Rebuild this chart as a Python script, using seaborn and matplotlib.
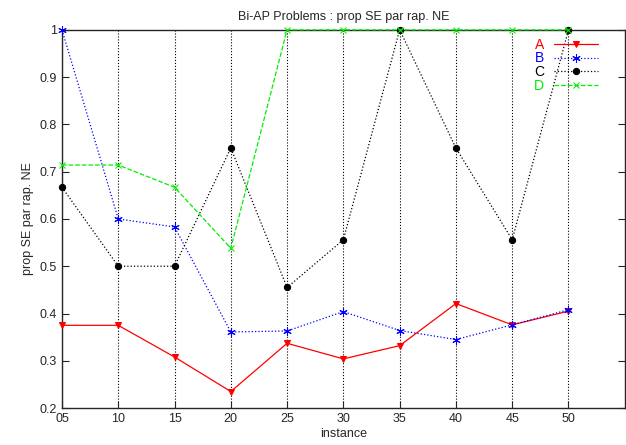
import numpy as np
import pandas as pd
import matplotlib
matplotlib.use('Agg')
import matplotlib.pyplot as plt
import seaborn as sns

instances = [5, 10, 15, 20, 25, 30, 35, 40, 45, 50]
tick_labels = ['05', '10', '15', '20', '25', '30', '35', '40', '45', '50']
serie_a = [0.375, 0.375, 0.308, 0.235, 0.337, 0.304, 0.332, 0.421, 0.376, 0.405]
serie_b = [1.0, 0.6, 0.583, 0.361, 0.363, 0.404, 0.364, 0.345, 0.376, 0.408]
serie_c = [0.667, 0.5, 0.5, 0.75, 0.455, 0.556, 1.0, 0.75, 0.556, 1.0]
serie_d = [0.714, 0.714, 0.667, 0.538, 1.0, 1.0, 1.0, 1.0, 1.0, 1.0]

sns.set_style('ticks')
plt.rcParams['font.family'] = ['Liberation Sans', 'DejaVu Sans']
plt.rcParams['font.size'] = 9

fig = plt.figure(figsize=(6.26, 4.45), dpi=100)
ax = fig.add_axes([0.099, 0.083, 0.899, 0.85])

styles = [
    ('A', serie_a, '#ff0000', '-', 'v', 4.5),
    ('B', serie_b, '#0000ff', ':', (6, 2, 0), 6),
    ('C', serie_c, '#000000', ':', 'o', 4.5),
    ('D', serie_d, '#00ee00', '--', 'x', 4.5),
]

# grille verticale pointillée sur les ticks x
for x in instances:
    ax.axvline(x, color='black', linestyle=':', linewidth=0.8, zorder=0)

for nom, vals, col, ls, mk, ms in styles:
    df = pd.DataFrame({'instance': instances, 'val': vals})
    sns.lineplot(x='instance', y='val', data=df, ax=ax, color=col, linestyle=ls,
                 marker=mk, markersize=ms, markeredgecolor=col, markerfacecolor=col,
                 linewidth=0.9, label=nom, clip_on=False, zorder=5)

ax.set_xlim(5, 55)
ax.set_ylim(0.2, 1.0)
ax.set_xticks(instances)
ax.set_xticklabels(tick_labels)
ax.set_yticks([0.2, 0.3, 0.4, 0.5, 0.6, 0.7, 0.8, 0.9, 1.0])
ax.set_yticklabels(['0.2', '0.3', '0.4', '0.5', '0.6', '0.7', '0.8', '0.9', '1'])
ax.tick_params(direction='in', right=True, length=5, labelsize=9)
for s in ax.spines.values():
    s.set_linewidth(1.0)
    s.set_visible(True)
    s.set_zorder(3)

ax.set_title('Bi-AP Problems : prop SE par rap. NE', fontsize=9, pad=7)
ax.set_xlabel('instance', fontsize=9, labelpad=2)
ax.set_ylabel('prop SE par rap. NE', fontsize=9)

leg = ax.legend(loc='upper right', frameon=False, markerfirst=False,
                labelcolor='linecolor', fontsize=10, handlelength=3.2,
                borderaxespad=0.3, labelspacing=-0.02, handletextpad=0.7,
                bbox_to_anchor=(0.97, 1.005))

fig.savefig('out.png', dpi=100)
